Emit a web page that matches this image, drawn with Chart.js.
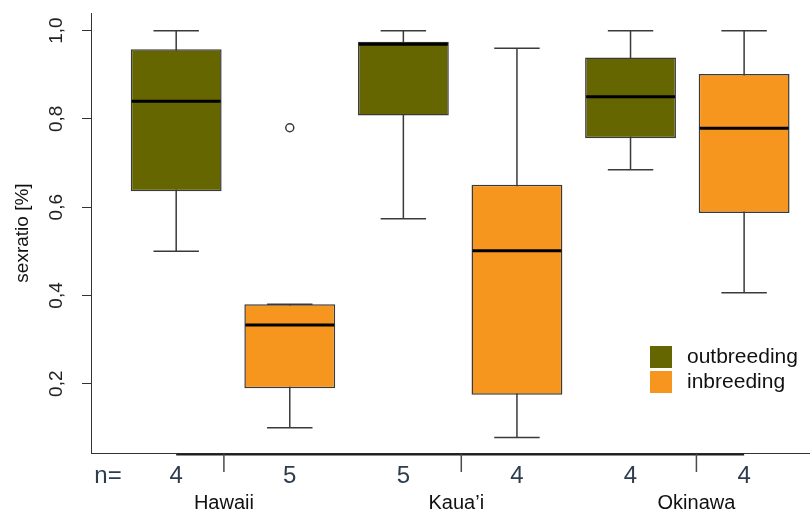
<!DOCTYPE html>
<html>
<head>
<meta charset="utf-8">
<script src="https://cdn.jsdelivr.net/npm/chart.js@4.4.1/dist/chart.umd.min.js"></script>
<style>
  html, body { margin: 0; padding: 0; background: #ffffff; overflow: hidden; }
  canvas { display: block; }
</style>
</head>
<body>
<canvas id="chart" width="810" height="512"></canvas>
<script>
// Islands and the axis values where their separator ticks / names sit
const groups = ['Hawaii', 'Kaua\u2019i', 'Okinawa'];
const groupTicks = [1.42, 3.51, 5.58];

// Sample sizes
const outbreedingN = [4, 5, 4];
const inbreedingN = [5, 4, 4];

// Five-number summaries of the sex ratio, per island
const outbreedingMin    = [0.500, 0.574, 0.685];
const outbreedingQ1     = [0.636, 0.808, 0.756];
const outbreedingMedian = [0.840, 0.969, 0.850];
const outbreedingQ3     = [0.958, 0.975, 0.939];
const outbreedingMax    = [1.000, 1.000, 1.000];

const inbreedingMin    = [0.100, 0.078, 0.406];
const inbreedingQ1     = [0.190, 0.175, 0.587];
const inbreedingMedian = [0.333, 0.501, 0.779];
const inbreedingQ3     = [0.380, 0.651, 0.902];
const inbreedingMax    = [0.380, 0.960, 1.000];

// Outlying observations: island index and value
const inbreedingOutlierIsland = [0];
const inbreedingOutlierValue  = [0.78];

// Y axis tick values
const yTickValues = [0.2, 0.4, 0.6, 0.8, 1.0];

const OLIVE = '#666600';
const ORANGE = '#f7961e';
const LINE = '#3a3a3a';
const FONT = '"Liberation Sans", Arial, Helvetica, sans-serif';

// box slot on the x axis: outbreeding left, inbreeding right of each island
const outPos = groups.map((g, i) => 2 * i + 1);
const inPos = groups.map((g, i) => 2 * i + 2);

const series = [
  { label: 'outbreeding', color: OLIVE, pos: outPos, n: outbreedingN,
    min: outbreedingMin, q1: outbreedingQ1, med: outbreedingMedian, q3: outbreedingQ3, max: outbreedingMax },
  { label: 'inbreeding', color: ORANGE, pos: inPos, n: inbreedingN,
    min: inbreedingMin, q1: inbreedingQ1, med: inbreedingMedian, q3: inbreedingQ3, max: inbreedingMax }
];

const boxDatasets = series.map(s => ({
  type: 'bar',
  label: s.label,
  data: s.pos.map((p, i) => ({ x: p, y: [s.q1[i], s.q3[i]] })),
  backgroundColor: s.color,
  borderColor: LINE,
  borderWidth: 1.5,
  borderSkipped: false,
  grouped: false,
  barPercentage: 0.8,
  categoryPercentage: 1
}));

const outlierDataset = {
  type: 'scatter',
  label: 'outliers',
  data: inbreedingOutlierIsland.map((g, i) => ({ x: inPos[g], y: inbreedingOutlierValue[i] })),
  pointStyle: 'circle',
  pointRadius: 4,
  pointBorderWidth: 1.5,
  pointBorderColor: LINE,
  pointBackgroundColor: '#ffffff',
  showLine: false
};

const noPadding = s => {
  s.paddingTop = 0; s.paddingBottom = 0; s.paddingLeft = 0; s.paddingRight = 0;
};

// whiskers, medians, the n= row, island names and the legend
const boxPlot = {
  id: 'boxPlot',
  beforeDatasetsDraw(chart) {
    const { ctx, scales: { x, y } } = chart;
    ctx.save();
    ctx.strokeStyle = LINE;
    ctx.lineWidth = 1.5;
    series.forEach((s, di) => {
      const meta = chart.getDatasetMeta(di);
      s.pos.forEach((p, i) => {
        const cx = x.getPixelForValue(p);
        const half = meta.data[i].width / 4;
        const lo = y.getPixelForValue(s.min[i]);
        const hi = y.getPixelForValue(s.max[i]);
        ctx.beginPath();
        ctx.moveTo(cx, lo); ctx.lineTo(cx, hi);
        ctx.moveTo(cx - half, lo); ctx.lineTo(cx + half, lo);
        ctx.moveTo(cx - half, hi); ctx.lineTo(cx + half, hi);
        ctx.stroke();
      });
    });
    ctx.restore();
  },
  afterDatasetsDraw(chart) {
    const { ctx, scales: { x, y } } = chart;
    ctx.save();
    ctx.strokeStyle = '#000000';
    ctx.lineWidth = 3;
    series.forEach((s, di) => {
      const meta = chart.getDatasetMeta(di);
      s.pos.forEach((p, i) => {
        const cx = x.getPixelForValue(p);
        const half = meta.data[i].width / 2;
        const my = y.getPixelForValue(s.med[i]);
        ctx.beginPath();
        ctx.moveTo(cx - half + 1, my); ctx.lineTo(cx + half - 1, my);
        ctx.stroke();
      });
    });
    ctx.restore();
  },
  afterDraw(chart) {
    const { ctx, chartArea, scales: { x } } = chart;
    const base = chartArea.bottom;
    ctx.save();

    // axis line joining the box slots
    ctx.strokeStyle = '#1e1e1e';
    ctx.lineWidth = 2;
    ctx.beginPath();
    ctx.moveTo(x.getPixelForValue(outPos[0]), base + 1.5);
    ctx.lineTo(x.getPixelForValue(inPos[inPos.length - 1]), base + 1.5);
    ctx.stroke();

    // island separator ticks
    ctx.strokeStyle = '#4a4a4a';
    ctx.lineWidth = 1.5;
    groupTicks.forEach(v => {
      const px = x.getPixelForValue(v);
      ctx.beginPath();
      ctx.moveTo(px, base + 1);
      ctx.lineTo(px, base + 19);
      ctx.stroke();
    });

    // sample sizes
    ctx.fillStyle = '#2e3d4d';
    ctx.font = '24px ' + FONT;
    ctx.textAlign = 'center';
    ctx.textBaseline = 'middle';
    ctx.fillText('n=', x.getPixelForValue(0.4), base + 23);
    series.forEach(s => {
      s.pos.forEach((p, i) => ctx.fillText(String(s.n[i]), x.getPixelForValue(p), base + 23));
    });

    // island names
    ctx.fillStyle = '#111111';
    ctx.font = '20px ' + FONT;
    groups.forEach((g, i) => ctx.fillText(g, x.getPixelForValue(groupTicks[i]) - (i === 1 ? 5 : 0), base + 50));

    // legend
    const lx = chartArea.left + 559;
    const ly = chartArea.top + 333;
    ctx.font = '21px ' + FONT;
    ctx.textAlign = 'left';
    series.forEach((s, i) => {
      const top = ly + i * 25;
      ctx.fillStyle = s.color;
      ctx.fillRect(lx, top, 22, 22);
      ctx.fillStyle = '#111111';
      ctx.fillText(s.label, lx + 37, top + 11);
    });
    ctx.restore();
  }
};

new Chart(document.getElementById('chart'), {
  data: { datasets: [...boxDatasets, outlierDataset] },
  options: {
    responsive: false,
    animation: false,
    devicePixelRatio: 1,
    layout: { autoPadding: false, padding: { top: 13, right: 0, bottom: 59, left: 0 } },
    plugins: { legend: { display: false }, tooltip: { enabled: false } },
    scales: {
      x: {
        type: 'linear',
        min: 0.25,
        max: 6.58,
        offset: false,
        afterFit: s => { s.height = 0; noPadding(s); },
        ticks: { display: false, stepSize: 1, includeBounds: false },
        grid: { display: false, offset: false },
        border: { display: true, color: '#333333', width: 1 }
      },
      y: {
        type: 'linear',
        min: 0.043,
        max: 1.04,
        afterFit: s => { s.width = 91; noPadding(s); },
        afterBuildTicks: s => { s.ticks = yTickValues.map(v => ({ value: v })); },
        ticks: {
          minRotation: 90,
          maxRotation: 90,
          crossAlign: 'center',
          padding: 12,
          color: '#222222',
          font: { family: FONT, size: 19 },
          callback: v => v.toFixed(1).replace('.', ',')
        },
        grid: { drawOnChartArea: false, drawTicks: true, tickLength: 9, color: '#333333', lineWidth: 1 },
        border: { display: true, color: '#333333', width: 1 },
        title: {
          display: true,
          text: 'sexratio [%]',
          color: '#111111',
          font: { family: FONT, size: 19 },
          padding: { top: 11, bottom: 0 }
        }
      }
    }
  },
  plugins: [boxPlot]
});
</script>
</body>
</html>
